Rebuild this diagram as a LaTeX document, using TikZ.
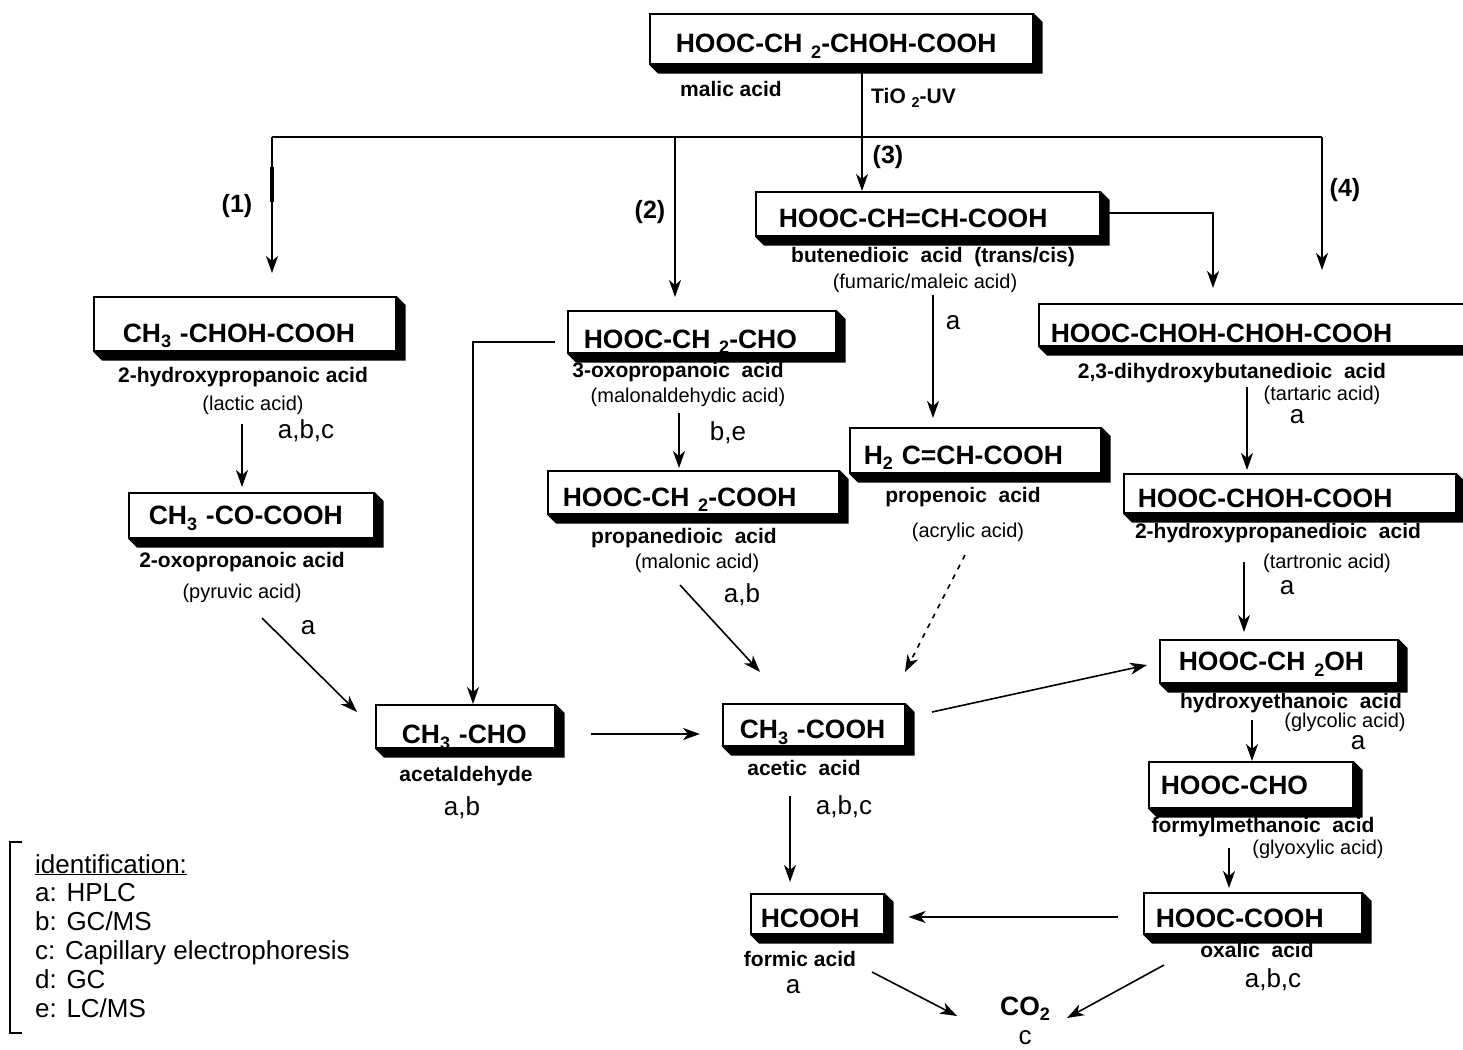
\documentclass[tikz,border=0pt]{standalone}
\usepackage{fontspec}
\setmainfont{Liberation Sans}
\usepackage{graphicx}
\usetikzlibrary{arrows.meta,calc}

\newcommand{\sub}[1]{\raisebox{-0.2em}{\scalebox{0.68}{#1}}}
\newcommand{\formfont}{\fontsize{26.5pt}{30pt}\selectfont\bfseries}
\newcommand{\namefont}{\fontsize{21pt}{24pt}\selectfont\bfseries}
\newcommand{\trivfont}{\fontsize{20pt}{23pt}\selectfont}
\newcommand{\detfont}{\fontsize{26pt}{29pt}\selectfont}
\newcommand{\routefont}{\fontsize{25pt}{28pt}\selectfont\bfseries}

\tikzset{
  mol/.style={draw, fill=white, line width=1.6pt, anchor=north west, inner ysep=0pt,
    align=left, text height=28pt, text depth=0pt, font=\formfont},
  conn/.style={line width=1.6pt},
  arr/.style={conn, -{Stealth[length=17pt,width=12pt,inset=5pt]}},
  dotarr/.style={arr, dash pattern=on 5pt off 6pt},
  iupac/.style={font=\namefont, inner sep=0pt},
  trivial/.style={font=\trivfont, inner sep=0pt},
  det/.style={font=\detfont, inner sep=0pt},
  route/.style={font=\routefont, inner sep=0pt},
  legend/.style={font=\detfont, anchor=base west, inner sep=0pt}
}

\begin{document}
\begin{tikzpicture}[x=1pt, y=-1pt]
  \path[use as bounding box, fill=white] (0,0) rectangle (1463,1049);
  % compound boxes
  \node[mol, minimum height=50pt, inner xsep=26pt, text width=331pt] (mal) at (649,13) {HOOC-CH~\sub{2}-CHOH-COOH};
  \node[mol, minimum height=54pt, inner xsep=29pt, text width=244pt, text height=37pt] (lac) at (93,296) {CH\sub{3}~-CHOH-COOH};
  \node[mol, minimum height=45pt, inner xsep=20pt, text width=205pt, text height=19pt] (pyr) at (128,492) {CH\sub{3}~-CO-COOH};
  \node[mol, minimum height=42pt, inner xsep=16pt, text width=236pt, text height=33pt] (mald) at (567,310) {HOOC-CH~\sub{2}-CHO};
  \node[mol, minimum height=43pt, inner xsep=15pt, text width=261pt] (malo) at (547,470) {HOOC-CH~\sub{2}-COOH};
  \node[mol, minimum height=44pt, inner xsep=23pt, text width=298pt] (but) at (755,191) {HOOC-CH=CH-COOH};
  \node[mol, minimum height=45pt, inner xsep=14pt, text width=223pt] (acr) at (849,427) {H\sub{2}~C=CH-COOH};
  \node[mol, minimum height=42pt, inner xsep=12pt, text width=408pt, text height=36pt] (tar) at (1038,303) {HOOC-CHOH-CHOH-COOH};
  \node[mol, minimum height=39pt, inner xsep=14pt, text width=304pt] (tro) at (1123,473) {HOOC-CHOH-COOH};
  \node[mol, minimum height=43pt, inner xsep=19pt, text width=200pt, text height=19pt] (gly) at (1159,639) {HOOC-CH~\sub{2}OH};
  \node[mol, minimum height=46pt, inner xsep=12pt, text width=180pt, text height=19pt] (gox) at (1148,761) {HOOC-CHO};
  \node[mol, minimum height=41pt, inner xsep=12pt, text width=194pt] (oxa) at (1143,892) {HOOC-COOH};
  \node[mol, minimum height=40pt, inner xsep=10pt, text width=113pt] (form) at (750,893) {HCOOH};
  \node[mol, minimum height=43pt, inner xsep=26pt, text width=127pt, text height=35pt] (ald) at (375,704) {CH\sub{3}~-CHO};
  \node[mol, minimum height=42pt, inner xsep=17pt, text width=148pt] (ace) at (722,703) {CH\sub{3}~-COOH};
  % box shadows
  \foreach \m in {mal,lac,pyr,mald,malo,but,acr,tar,tro,gly,gox,oxa,form,ald,ace}
    \fill (\m.south west) -- ++(9,9) -- ($(\m.south east)+(9,9)$) -- ($(\m.north east)+(9,9)$)
      -- (\m.north east) -- (\m.south east) -- cycle;
  % names
  \node[iupac] (maln) at (731,89) {malic acid};
  \node[iupac, anchor=west] (tio) at (871,98) {TiO~\sub{2}-UV};
  \node[route] (r1) at (237,206) {(1)};
  \node[route] (r2) at (650,212) {(2)};
  \node[route] (r3) at (888,157) {(3)};
  \node[route] (r4) at (1345,190) {(4)};
  \node[iupac] (lacn) at (243,377) {2-hydroxypropanoic acid};
  \node[trivial] (lact) at (253,405) {(lactic acid)};
  \node[det] (lacd) at (306,431) {a,b,c};
  \node[iupac] (pyrn) at (242,562) {2-oxopropanoic acid};
  \node[trivial] (pyrt) at (242,593) {(pyruvic acid)};
  \node[det] (pyrd) at (308,628) {a};
  \node[iupac] (maldn) at (678,372) {3-oxopropanoic\ \ acid};
  \node[trivial] (maldt) at (688,397) {(malonaldehydic acid)};
  \node[det] (maldd) at (728,433) {b,e};
  \node[iupac] (malon) at (684,538) {propanedioic\ \ acid};
  \node[trivial] (malot) at (697,563) {(malonic acid)};
  \node[det] (malod) at (742,595) {a,b};
  \node[iupac] (butn) at (933,257) {butenedioic\ \ acid\ \ (trans/cis)};
  \node[trivial] (butt) at (925,283) {(fumaric/maleic acid)};
  \node[det] (butd) at (953,323) {a};
  \node[iupac] (acrn) at (963,497) {propenoic\ \ acid};
  \node[trivial] (acrt) at (968,532) {(acrylic acid)};
  \node[iupac] (tarn) at (1232,373) {2,3-dihydroxybutanedioic\ \ acid};
  \node[trivial] (tart) at (1322,395) {(tartaric acid)};
  \node[det] (tard) at (1297,417) {a};
  \node[iupac] (tron) at (1278,533) {2-hydroxypropanedioic\ \ acid};
  \node[trivial] (trot) at (1327,563) {(tartronic acid)};
  \node[det] (trod) at (1287,588) {a};
  \node[iupac] (glyn) at (1291,703) {hydroxyethanoic\ \ acid};
  \node[trivial] (glyt) at (1345,722) {(glycolic acid)};
  \node[det] (glyd) at (1358,743) {a};
  \node[iupac] (goxn) at (1263,827) {formylmethanoic\ \ acid};
  \node[trivial] (goxt) at (1318,849) {(glyoxylic acid)};
  \node[iupac] (oxan) at (1257,950) {oxalic\ \ acid};
  \node[det] (oxad) at (1273,980) {a,b,c};
  \node[iupac] (aldn) at (466,776) {acetaldehyde};
  \node[det] (aldd) at (462,808) {a,b};
  \node[iupac] (acen) at (804,768) {acetic\ \ acid};
  \node[det] (aced) at (844,807) {a,b,c};
  \node[iupac] (formn) at (800,959) {formic acid};
  \node[det] (formd) at (793,987) {a};
  \node[font=\formfont, inner sep=0pt] (co2) at (1025,1009) {CO\sub{2}};
  \node[det] (co2d) at (1025,1038) {c};
  % branches from malic acid
  \coordinate (split) at (862,137);
  \coordinate (br1) at (272,137);
  \coordinate (br2) at (675,137);
  \coordinate (br4) at (1322,137);
  \draw[conn] (mal.south -| split) -- (split);
  \draw[conn] (br1) -- (br4);
  \draw[arr, shorten >=23pt] (br1) -- (br1 |- lac.north);
  \draw[line width=3.4pt] ($(br1)+(0,30)$) -- ++(0,35);
  \draw[arr, shorten >=13pt] (br2) -- (br2 |- mald.north);
  \draw[arr] (split) -- (split |- but.north);
  \draw[arr, shorten >=33pt] (br4) -- (br4 |- tar.north);
  % butenedioic acid to tartaric acid
  \coordinate (bt) at (1213,213);
  \draw[arr, shorten >=15pt] (but.east |- bt) -- (bt) -- (bt |- tar.north);
  % malonaldehydic acid to acetaldehyde
  \coordinate (ma) at (473,342);
  \draw[arr] ($(mald.west |- ma)+(-12,0)$) -- (ma) -- (ma |- ald.north);
  % vertical steps
  \coordinate (lp) at (242,424);
  \draw[arr, shorten >=5pt] (lp) -- (lp |- pyr.north);
  \coordinate (mm) at (679,413);
  \draw[arr, shorten >=2pt] (mm) -- (mm |- malo.north);
  \coordinate (ba) at (933,295);
  \draw[arr, shorten >=9pt] (ba) -- (ba |- acr.north);
  \coordinate (tt) at (1247,387);
  \draw[arr, shorten >=3pt] (tt) -- (tt |- tro.north);
  \coordinate (tg) at (1244,562);
  \draw[arr, shorten >=7pt] (tg) -- (tg |- gly.north);
  \coordinate (gg) at (1252,720);
  \draw[arr] (gg) -- (gg |- gox.north);
  \coordinate (go) at (1229,848);
  \draw[arr, shorten >=4pt] (go) -- (go |- oxa.north);
  \coordinate (af) at (790,796);
  \draw[arr, shorten >=11pt] (af) -- (af |- form.north);
  % oblique and horizontal steps
  \coordinate (pa1) at (262,618);
  \coordinate (pa2) at (357,712);
  \draw[arr] (pa1) -- (pa2);
  \coordinate (mc1) at (680,585);
  \coordinate (mc2) at (760,672);
  \draw[arr] (mc1) -- (mc2);
  \coordinate (ac1) at (965,555);
  \coordinate (ac2) at (905,672);
  \draw[dotarr] (ac1) -- (ac2);
  \coordinate (aa1) at (591,734);
  \coordinate (aa2) at (700,734);
  \draw[arr] (aa1) -- (aa2);
  \coordinate (ag1) at (932,712);
  \coordinate (ag2) at (1147,665);
  \draw[arr] (ag1) -- (ag2);
  \coordinate (of) at (1118,917);
  \draw[arr, shorten >=24pt] (of) -- (of -| form.east);
  \coordinate (fc1) at (872,972);
  \coordinate (fc2) at (957,1016);
  \draw[arr] (fc1) -- (fc2);
  \coordinate (oc1) at (1164,965);
  \coordinate (oc2) at (1067,1018);
  \draw[arr] (oc1) -- (oc2);
  % identification legend
  \draw[line width=1.4pt] (22,842) -- (10,842) -- (10,1033) -- (22,1033);
  \node[legend] (ident) at (35,873) {\underline{identification:}};
  \foreach \t [count=\i] in {a: HPLC, b: GC/MS, c: Capillary electrophoresis, d: GC, e: LC/MS}
    \node[legend] (leg\i) at (35,{873+28.8*\i}) {\t};
\end{tikzpicture}
\end{document}
